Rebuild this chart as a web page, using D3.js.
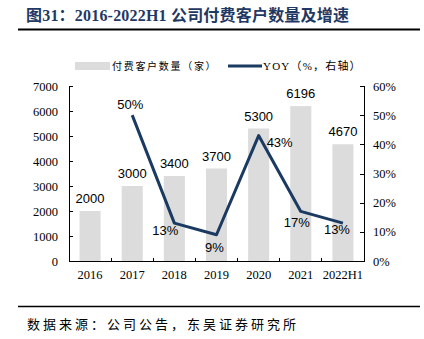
<!DOCTYPE html>
<html>
<head>
<meta charset="utf-8">
<title>公司付费客户数量及增速</title>
<script src="https://cdn.jsdelivr.net/npm/d3@7"></script>
<style>
  body { margin: 0; background: #fff; }
  .axis path, .axis line { fill: none; stroke: #000; shape-rendering: crispEdges; }
  .axis text { font-family: "Liberation Serif", "Times New Roman", serif; font-size: 12.5px; fill: #000; }
  .lbl { font-family: "Liberation Sans", Arial, sans-serif; font-size: 13px; fill: #000; }
</style>
</head>
<body>
<script>
// 数据
var years = ["2016", "2017", "2018", "2019", "2020", "2021", "2022H1"];
var clients = [2000, 3000, 3400, 3700, 5300, 6196, 4670];   // 付费客户数量（家）
var yoy = [null, 50, 13, 9, 43, 17, 13];                     // 同比增速 %
var leftTicks = [0, 1000, 2000, 3000, 4000, 5000, 6000, 7000];
var rightTicks = [0, 10, 20, 30, 40, 50, 60];

var W = 424, H = 339;
var plotL = 69, plotR = 364, plotT = 86, plotB = 261;
var navy = "#1b3a61", barColor = "#dcdcdc";

var svg = d3.select("body").append("svg")
    .attr("width", W)
    .attr("height", H);

// 标题
svg.append("text")
    .attr("x", 26).attr("y", 21)
    .attr("font-family", "'Liberation Serif', 'Noto Sans CJK SC', serif")
    .attr("font-weight", "bold")
    .attr("font-size", "16px")
    .attr("letter-spacing", "0.2px")
    .attr("fill", "#1f3864")
    .text("图31：2016-2022H1 公司付费客户数量及增速");

svg.append("line")
    .attr("x1", 18).attr("x2", 420).attr("y1", 29.5).attr("y2", 29.5)
    .attr("stroke", "#000").attr("stroke-width", 2);

// 比例尺
var x = d3.scaleBand().domain(years).range([plotL, plotR]).paddingInner(0.5).paddingOuter(0.25);
var yL = d3.scaleLinear().domain([0, 7000]).range([plotB, plotT]);
var yR = d3.scaleLinear().domain([0, 60]).range([plotB, plotT]);
var cx = function(d) { return x(d) + x.bandwidth() / 2; };

// 柱子
svg.selectAll("rect.bar")
    .data(clients)
    .enter().append("rect")
    .attr("class", "bar")
    .attr("x", function(d, i) { return x(years[i]); })
    .attr("y", function(d) { return yL(d); })
    .attr("width", x.bandwidth())
    .attr("height", function(d) { return yL(0) - yL(d); })
    .attr("fill", barColor);

// 坐标轴
svg.append("g")
    .attr("class", "axis")
    .attr("transform", "translate(" + plotL + ",0)")
    .call(d3.axisLeft(yL).tickValues(leftTicks).tickSizeInner(-4).tickSizeOuter(-4).tickPadding(11).tickFormat(d3.format("d")));

svg.append("g")
    .attr("class", "axis")
    .attr("transform", "translate(" + plotR + ",0)")
    .call(d3.axisRight(yR).tickValues(rightTicks).tickSizeInner(-4).tickSizeOuter(-4).tickPadding(9).tickFormat(function(d) { return d + "%"; }));

var xAxis = svg.append("g")
    .attr("class", "axis")
    .attr("transform", "translate(0," + plotB + ")")
    .call(d3.axisBottom(x).tickSize(0).tickPadding(9));

// 类别分隔刻度（朝上）
xAxis.selectAll("line.sep")
    .data(years.slice(1))
    .enter().append("line")
    .attr("class", "sep")
    .attr("x1", function(d) { return x(d) - x.step() * x.paddingInner() / 2; })
    .attr("x2", function(d) { return x(d) - x.step() * x.paddingInner() / 2; })
    .attr("y1", 0).attr("y2", -3);

// 增速折线
var pts = years.map(function(d, i) { return { year: d, v: yoy[i] }; }).filter(function(p) { return p.v != null; });

svg.append("path")
    .datum(pts)
    .attr("fill", "none")
    .attr("stroke", navy)
    .attr("stroke-width", 3)
    .attr("stroke-linejoin", "round")
    .attr("d", d3.line().x(function(p) { return cx(p.year); }).y(function(p) { return yR(p.v); }));

// 柱子数值标签
svg.selectAll("text.barlbl")
    .data(clients)
    .enter().append("text")
    .attr("class", "lbl barlbl")
    .attr("text-anchor", "middle")
    .attr("x", function(d, i) { return cx(years[i]); })
    .attr("y", function(d) { return yL(d) - 8; })
    .text(function(d) { return d; });

// 增速标签偏移
var off = { "2017": [-2, -6], "2018": [-9, 12], "2019": [-2, 17], "2020": [21, 11], "2021": [-4, 16], "2022H1": [-6, 11] };

svg.selectAll("text.yoylbl")
    .data(pts)
    .enter().append("text")
    .attr("class", "lbl yoylbl")
    .attr("text-anchor", "middle")
    .attr("x", function(p) { return cx(p.year) + off[p.year][0]; })
    .attr("y", function(p) { return yR(p.v) + off[p.year][1]; })
    .text(function(p) { return p.v + "%"; });

// 图例
var lg = svg.append("g");
lg.append("rect").attr("x", 75).attr("y", 62).attr("width", 35).attr("height", 8).attr("fill", barColor);
lg.append("text")
    .attr("x", 112).attr("y", 70)
    .attr("font-family", "'Noto Sans CJK SC', sans-serif")
    .attr("font-size", "10px")
    .attr("letter-spacing", "1.7px")
    .text("付费客户数量（家）");
lg.append("line").attr("x1", 228).attr("x2", 262).attr("y1", 66).attr("y2", 66)
    .attr("stroke", navy).attr("stroke-width", 3);
lg.append("text")
    .attr("x", 263).attr("y", 70)
    .attr("font-family", "'Liberation Serif', 'Noto Sans CJK SC', serif")
    .attr("font-size", "11px")
    .attr("letter-spacing", "1.2px")
    .text("YOY（%，右轴）");

// 数据来源
svg.append("line")
    .attr("x1", 18).attr("x2", 420).attr("y1", 306.5).attr("y2", 306.5)
    .attr("stroke", "#000").attr("stroke-width", 1.5);

svg.append("text")
    .attr("x", 27).attr("y", 329)
    .attr("font-family", "'Noto Sans CJK SC', sans-serif")
    .attr("font-size", "13px")
    .attr("letter-spacing", "3px")
    .text("数据来源：公司公告，东吴证券研究所");
</script>
</body>
</html>
